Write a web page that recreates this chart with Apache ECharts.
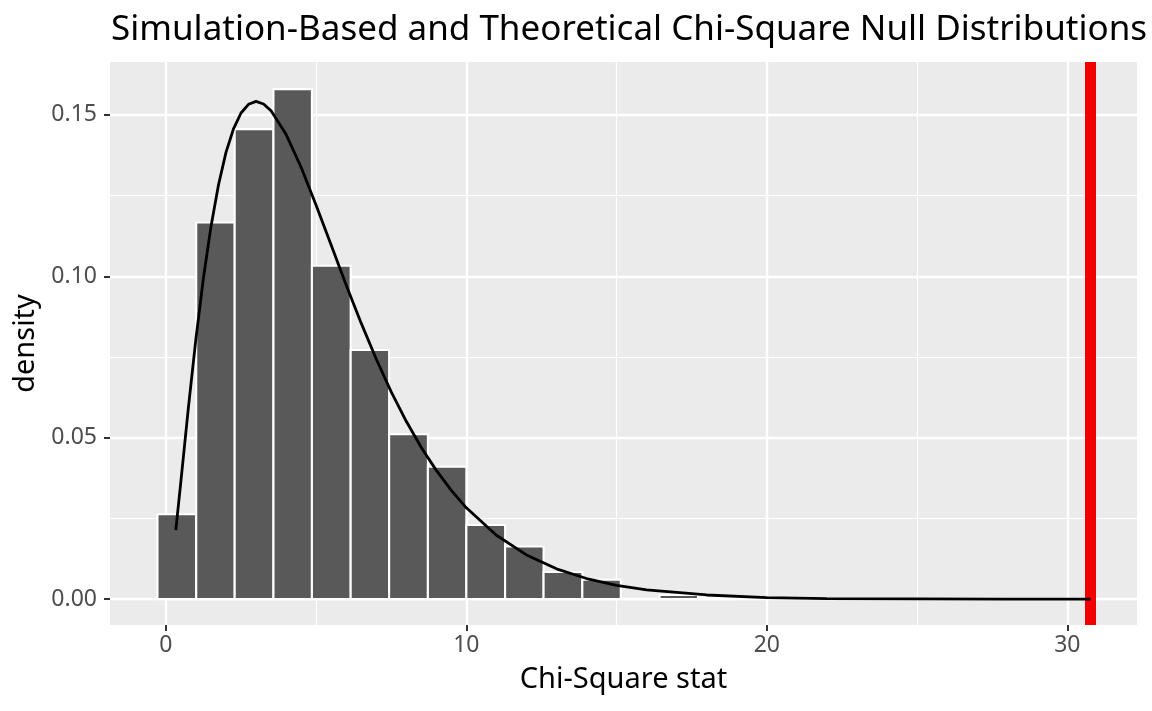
<!DOCTYPE html>
<html lang="en">

<head>
  <meta charset="UTF-8">
  <title>Chi-Square Null Distributions</title>
  <style>
    html, body {
      margin: 0;
      padding: 0;
      background: #fff;
    }

    #chart {
      width: 1152px;
      height: 711px;
    }
  </style>
</head>

<body>
  <div id="chart"></div>

  <script src="https://cdn.jsdelivr.net/npm/echarts@6/dist/echarts.min.js"></script>
  <script>
    // histogram bins (left edges + final right edge) and their densities
    const binEdges = [-0.28, 1.01, 2.29, 3.58, 4.86, 6.15, 7.43, 8.72, 10.00, 11.29, 12.57, 13.86, 15.14, 16.43, 17.71, 19.00];
    const binDensity = [0.0263, 0.1167, 0.1456, 0.1580, 0.1033, 0.0772, 0.0511, 0.0410, 0.0230, 0.0163, 0.0084, 0.0060, 0, 0.0013, 0.0006];

    // theoretical chi-square curve
    const curveX = [0.33, 0.5, 0.75, 1, 1.25, 1.5, 1.75, 2, 2.25, 2.5, 2.75, 3, 3.25, 3.5, 4, 4.5, 5, 5.5, 6, 6.5, 7, 7.5, 8, 8.5, 9, 9.5, 10, 11, 12, 13, 14, 15, 16, 18, 20, 22, 25, 28, 30.77];
    const curveY = [0.0214, 0.0366, 0.0594, 0.0807, 0.0995, 0.1154, 0.1283, 0.1384, 0.1457, 0.1506, 0.1533, 0.1542, 0.1534, 0.1513, 0.1440, 0.1338, 0.1220, 0.1097, 0.0973, 0.0855, 0.0744, 0.0642, 0.0551, 0.0470, 0.0399, 0.0337, 0.0283, 0.0198, 0.0137, 0.0094, 0.0064, 0.0043, 0.0029, 0.0013, 0.0005, 0.0002, 0.0001, 0.0000, 0.0000];

    // observed statistic
    const observedStat = 30.77;

    const xTicks = [0, 10, 20, 30];
    const xMinor = [5, 15, 25];
    const yTicks = [0, 0.05, 0.10, 0.15];
    const yMinor = [0.025, 0.075, 0.125];

    const xRange = [-1.86, 32.32];
    const yRange = [-0.008, 0.1664];

    const barData = binDensity.map((d, i) => [binEdges[i], binEdges[i + 1], d]);
    const curveData = curveX.map((x, i) => [x, curveY[i]]);

    const chart = echarts.init(document.getElementById('chart'));

    const renderBar = (params, api) => {
      const topLeft = api.coord([api.value(0), api.value(2)]);
      const bottomRight = api.coord([api.value(1), 0]);
      return {
        type: 'rect',
        shape: {
          x: topLeft[0],
          y: topLeft[1],
          width: bottomRight[0] - topLeft[0],
          height: bottomRight[1] - topLeft[1],
        },
        style: {
          fill: '#595959',
          stroke: '#ffffff',
          lineWidth: 2.1,
        },
      };
    };

    const fontFamily = '"Noto Sans", "Open Sans", sans-serif';

    const majorAxis = (ticks, fmt, margin) => ({
      type: 'value',
      axisLine: { show: false, onZero: false },
      axisTick: {
        show: true,
        length: 6,
        customValues: ticks,
        lineStyle: { color: '#333333', width: 2 },
      },
      axisLabel: {
        customValues: ticks,
        formatter: fmt,
        color: '#4d4d4d',
        fontSize: 23,
        fontFamily,
        margin,
      },
      splitLine: {
        show: true,
        lineStyle: { color: '#ffffff', width: 2.4 },
      },
    });

    const minorAxis = (ticks) => ({
      type: 'value',
      axisLine: { show: false, onZero: false },
      axisTick: { show: false, customValues: ticks },
      axisLabel: { show: false, customValues: ticks },
      splitLine: {
        show: true,
        lineStyle: { color: '#ffffff', width: 1.2 },
      },
    });

    chart.setOption({
      animation: false,
      backgroundColor: '#ffffff',
      title: {
        text: 'Simulation-Based and Theoretical Chi-Square Null Distributions',
        left: 106,
        top: 8,
        textStyle: {
          color: '#000000',
          fontSize: 35,
          fontWeight: 'normal',
          fontFamily,
        },
      },
      grid: {
        left: 110,
        right: 15,
        top: 62,
        bottom: 86,
        show: true,
        backgroundColor: '#ebebeb',
        borderWidth: 0,
      },
      xAxis: [
        {
          ...majorAxis(xTicks, v => String(v), 9),
          min: xRange[0],
          max: xRange[1],
          name: 'Chi-Square stat',
          nameLocation: 'middle',
          nameGap: 40,
          nameTextStyle: { color: '#000000', fontSize: 29, fontFamily },
          z: 3,
        },
        {
          ...minorAxis(xMinor),
          min: xRange[0],
          max: xRange[1],
          position: 'bottom',
          z: 2,
        },
      ],
      yAxis: [
        {
          ...majorAxis(yTicks, v => v.toFixed(2), 13),
          min: yRange[0],
          max: yRange[1],
          name: 'density',
          nameLocation: 'middle',
          nameGap: 66,
          nameTextStyle: { color: '#000000', fontSize: 29, fontFamily },
          z: 3,
        },
        {
          ...minorAxis(yMinor),
          min: yRange[0],
          max: yRange[1],
          position: 'left',
          z: 2,
        },
      ],
      series: [
        {
          type: 'custom',
          name: 'simulated',
          renderItem: renderBar,
          data: barData,
          encode: { x: [0, 1], y: 2 },
          clip: true,
          z: 5,
          markLine: {
            silent: true,
            symbol: 'none',
            label: { show: false },
            lineStyle: { color: '#f00000', width: 11, type: 'solid' },
            data: [{ xAxis: observedStat }],
          },
        },
        {
          type: 'line',
          name: 'theoretical',
          data: curveData,
          showSymbol: false,
          symbol: 'none',
          lineStyle: { color: '#000000', width: 2.8 },
          z: 10,
        },
      ],
    });
  </script>
</body>

</html>
